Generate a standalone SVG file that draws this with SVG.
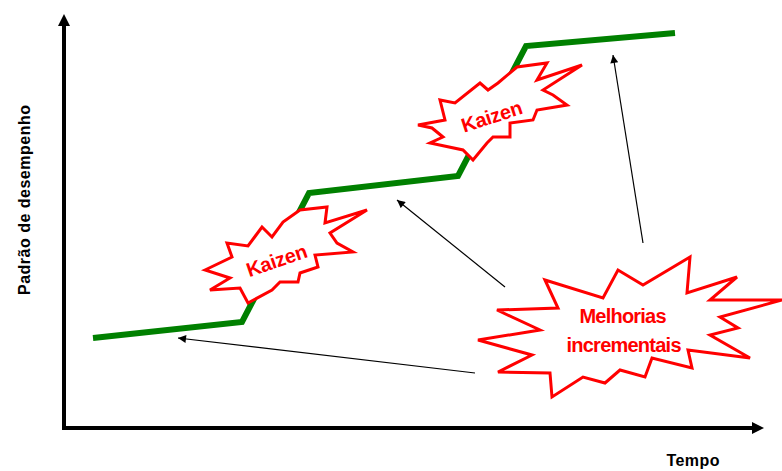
<svg xmlns="http://www.w3.org/2000/svg" width="782" height="471" viewBox="0 0 782 471">
<defs>
<style>
.axis{stroke:#000;stroke-width:4;fill:none}
.trend{stroke:#008000;stroke-width:6;fill:none;stroke-linejoin:miter}
.burst{fill:#fff;stroke:#ff0000;stroke-width:3;stroke-linejoin:miter}
.btext{font-family:"Liberation Sans",Arial,sans-serif;font-weight:bold;fill:#ff0000;text-anchor:middle}
.label{font-family:"Liberation Sans",Arial,sans-serif;font-weight:bold;fill:#000;font-size:16px;text-anchor:middle}
.conn{stroke:#000;stroke-width:1.2;fill:none}
</style>
<marker id="ah" viewBox="0 0 10 10" refX="10" refY="5" markerWidth="9" markerHeight="8" markerUnits="userSpaceOnUse" orient="auto">
<path d="M0,0 L10,5 L0,10 z" fill="#000"/>
</marker>
</defs>
<rect width="782" height="471" fill="#fff"/>
<g id="axes">
<path class="axis" d="M64,24 L64,428 L754,428"/>
<path d="M58,26 L64,14 L70,26 z" fill="#000"/>
<path d="M752,422 L764,428 L752,434 z" fill="#000"/>
<text class="label" x="693" y="466" textLength="53">Tempo</text>
<text class="label" transform="translate(30,200) rotate(-90)" textLength="190">Padrão de desempenho</text>
</g>
<g id="trend">
<polyline class="trend" points="93,338 242,322 309,193 458,176 526,46 675,33"/>
</g>
<g id="kaizen1">
<polygon class="burst" points="205,270 232,257 227,243 248,246 262,227 272,237 283,222 300,210 327,207 325,223 367,210 330,233 337,243 353,252 315,255 318,267 300,273 298,282 280,282 272,290 248,303 240,288 210,290 230,278"/>
<text class="btext" font-size="20" textLength="63" transform="translate(279,267) rotate(-19)">Kaizen</text>
</g>
<g id="kaizen2">
<polygon class="burst" points="418,125 445,120 440,100 455,103 480,83 488,90 498,83 517,67 547,63 537,80 582,65 543,90 553,95 567,105 537,110 533,120 510,123 510,137 493,137 487,143 473,160 463,150 430,143 443,137 432,128"/>
<text class="btext" font-size="20" textLength="63" transform="translate(494,123) rotate(-18)">Kaizen</text>
</g>
<g id="melhorias">
<polygon class="burst" points="545,280 558,308 497,310 540,330 478,340 532,355 498,372 550,373 552,397 583,377 605,383 620,370 645,377 652,358 692,368 688,350 750,358 710,335 738,328 720,317 782,300 710,300 737,277 687,293 690,257 643,285 618,270 603,298"/>
<text class="btext" font-size="20" textLength="87" x="623" y="323">Melhorias</text>
<text class="btext" font-size="20" textLength="115" x="624" y="352">incrementais</text>
</g>
<g id="connectors">
<line class="conn" x1="475" y1="373" x2="178" y2="338" marker-end="url(#ah)"/>
<line class="conn" x1="505" y1="287" x2="397" y2="200" marker-end="url(#ah)"/>
<line class="conn" x1="643" y1="243" x2="613" y2="55" marker-end="url(#ah)"/>
</g>
</svg>
